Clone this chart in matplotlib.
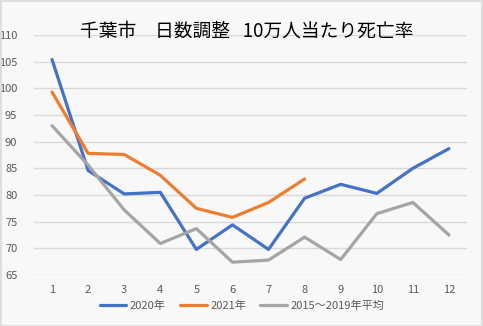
import matplotlib
matplotlib.use("Agg")
import matplotlib.pyplot as plt
from matplotlib.patches import Rectangle

plt.rcParams['font.family'] = ['Noto Sans CJK JP', 'DejaVu Sans']

months = [1, 2, 3, 4, 5, 6, 7, 8, 9, 10, 11, 12]
y2020 = [105.4, 84.6, 80.2, 80.5, 69.8, 74.4, 69.8, 79.4, 82.0, 80.3, 85.0, 88.7]
y2021 = [99.3, 87.8, 87.6, 83.7, 77.5, 75.8, 78.6, 83.0]
yavg = [93.0, 85.6, 77.2, 70.9, 73.7, 67.4, 67.8, 72.1, 67.9, 76.5, 78.6, 72.5]
yticks = [65, 70, 75, 80, 85, 90, 95, 100, 105, 110]
title = "千葉市　日数調整   10万人当たり死亡率"
labels = ["2020年", "2021年", "2015～2019年平均"]
colors = ["#4472C4", "#ED7D31", "#A5A5A5"]

W, H = 483, 326
fig = plt.figure(figsize=(W / 100, H / 100), dpi=100)
fig.patch.set_facecolor("#F8F8F8")
fig.add_artist(Rectangle((0.5 / W, 0.5 / H), 1 - 1.5 / W, 1 - 1.5 / H,
                         transform=fig.transFigure, fill=False,
                         edgecolor="#D9D9D9", linewidth=1.2))

left, right, top, bottom = 34, 467, 35, 275
ax = fig.add_axes([left / W, (H - bottom) / H, (right - left) / W, (bottom - top) / H])
ax.set_facecolor("#F8F8F8")

ax.plot(months, y2020, color=colors[0], lw=2.3, label=labels[0], solid_capstyle="round")
ax.plot(months[:len(y2021)], y2021, color=colors[1], lw=2.3, label=labels[1], solid_capstyle="round")
ax.plot(months, yavg, color=colors[2], lw=2.3, label=labels[2], solid_capstyle="round")

ax.set_xlim(0.5, 12.5)
ax.set_ylim(65, 110)
ax.set_yticks(yticks)
ax.set_xticks(months)
ax.grid(axis="y", color="#D9D9D9", lw=1)
ax.set_axisbelow(True)
for s in ax.spines.values():
    s.set_visible(False)
ax.tick_params(length=0, colors="#595959", labelsize=8)
ax.tick_params(axis="y", pad=12)
ax.tick_params(axis="x", pad=7)

fig.text(247 / W, 1 - 31 / H, title, ha="center", va="center", fontsize=13.5, color="black")

leg = fig.legend(loc="center", bbox_to_anchor=(242 / W, 1 - 306 / H), ncol=3,
                 frameon=False, fontsize=8, handlelength=2.4, handletextpad=0.3,
                 columnspacing=1.3, labelcolor="#595959")

fig.savefig("out.png", dpi=100, facecolor=fig.get_facecolor())
